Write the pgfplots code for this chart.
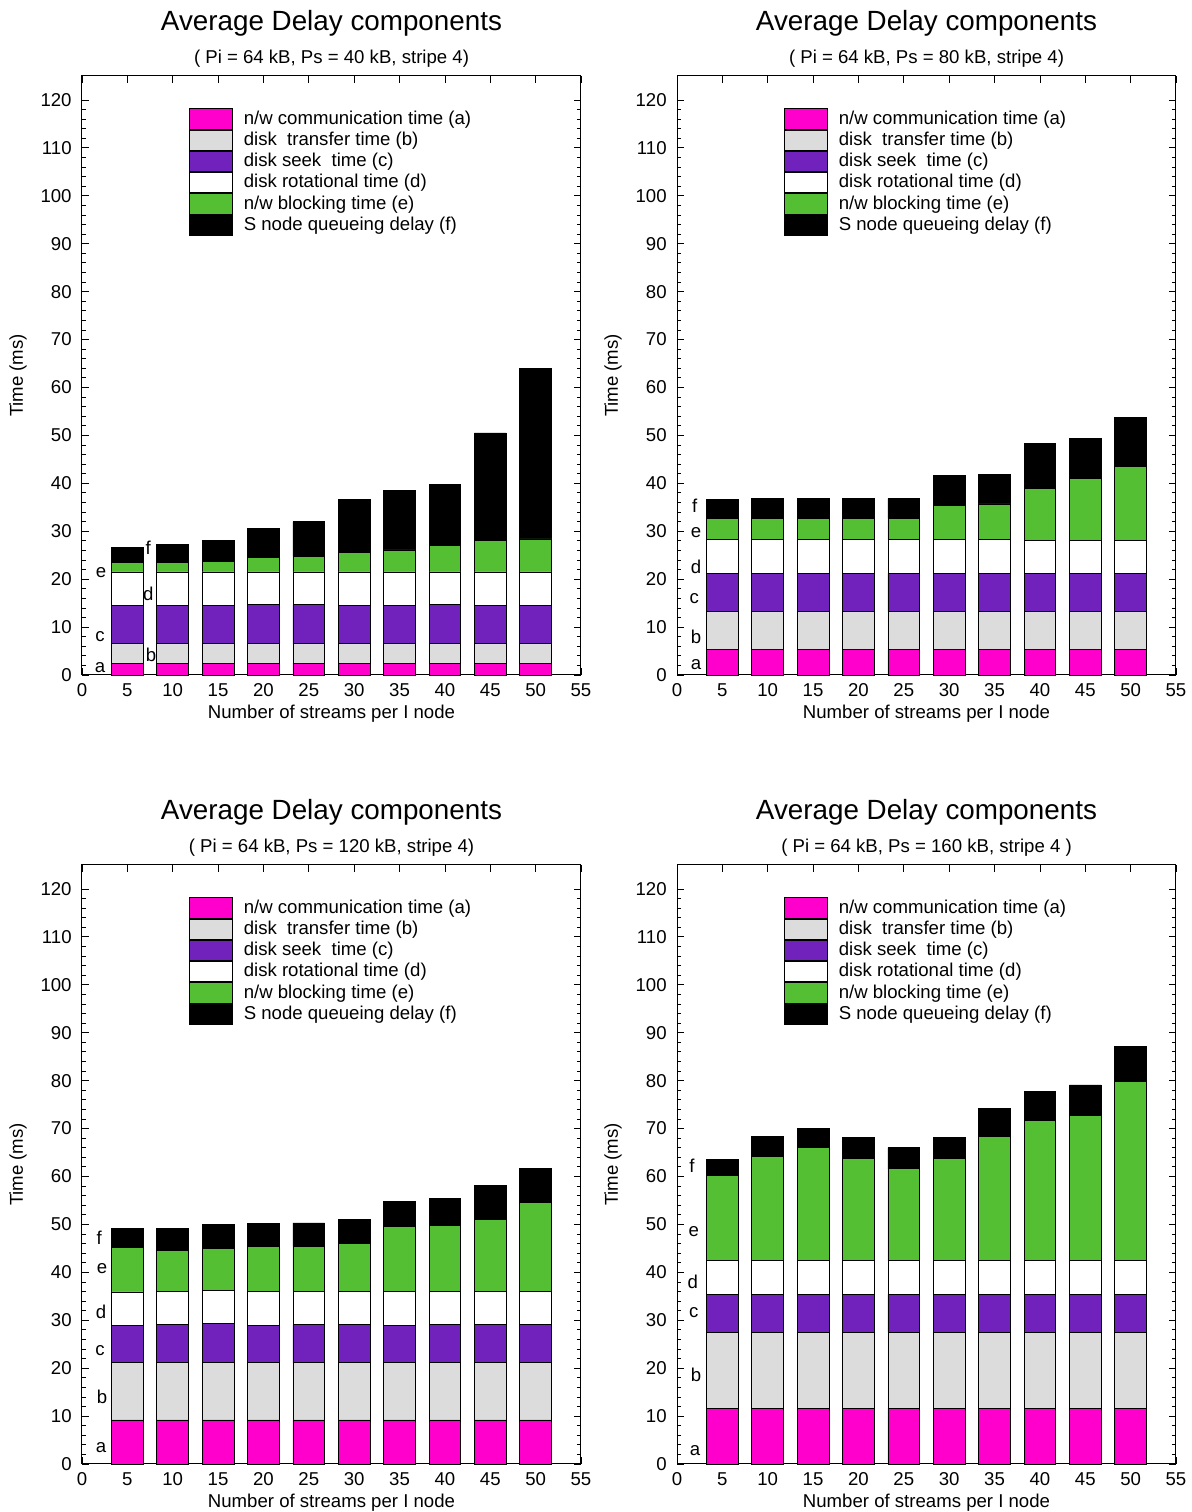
\documentclass[border=0pt]{standalone}
\usepackage{fontspec}
\setmainfont{Liberation Sans}
\usepackage{pgfplots}
\usepackage{pgfplotstable}
\pgfplotsset{compat=1.18}
\definecolor{ca}{HTML}{FF00CC}
\definecolor{cb}{HTML}{DCDCDC}
\definecolor{cc}{HTML}{7121BC}
\definecolor{cd}{HTML}{FFFFFF}
\definecolor{ce}{HTML}{55BF33}
\definecolor{cf}{HTML}{000000}

\pgfplotstableread{
x a b c d e f
5 2.5 4.0 8.0 7.0 2.0 3.2
10 2.5 4.0 8.1 6.9 2.0 3.7
15 2.5 4.0 8.0 7.0 2.2 4.3
20 2.5 4.0 8.2 6.8 3.0 6.0
25 2.5 4.0 8.2 6.8 3.25 7.25
30 2.5 4.0 8.0 7.0 4.1 11.0
35 2.5 4.0 8.0 7.0 4.6 12.5
40 2.5 4.0 8.2 6.8 5.5 12.8
45 2.5 4.0 8.0 7.0 6.5 22.5
50 2.5 4.0 8.0 7.0 6.9 35.6
}\tabA
\pgfplotstableread{
x a b c d e f
5 5.3 7.9 8.0 7.0 4.5 3.9
10 5.3 7.9 8.0 7.0 4.5 4.1
15 5.3 7.9 8.0 7.0 4.5 4.1
20 5.3 7.9 8.0 7.0 4.4 4.3
25 5.3 7.9 8.0 7.0 4.5 4.1
30 5.3 7.9 8.0 7.0 7.1 6.3
35 5.3 7.9 8.0 7.0 7.5 6.1
40 5.3 7.9 8.0 6.9 10.9 9.4
45 5.3 7.9 8.0 6.9 13.0 8.2
50 5.3 7.9 8.0 6.9 15.4 10.3
}\tabB
\pgfplotstableread{
x a b c d e f
5 9.2 11.9 7.75 7.05 9.3 4.0
10 9.2 11.9 7.95 7.05 8.4 4.7
15 9.2 11.9 8.2 6.9 8.8 4.9
20 9.2 11.9 7.8 7.1 9.4 4.8
25 9.2 11.9 8.0 7.0 9.3 4.9
30 9.2 11.9 7.95 6.95 10.0 5.0
35 9.2 11.9 7.9 7.0 13.5 5.2
40 9.2 11.9 7.95 6.95 13.75 5.7
45 9.2 11.9 8.1 6.9 14.9 7.1
50 9.2 11.9 8.0 6.9 18.5 7.1
}\tabC
\pgfplotstableread{
x a b c d e f
5 11.6 15.9 7.9 7.0 17.85 3.35
10 11.6 15.9 7.9 7.0 21.7 4.3
15 11.6 15.9 7.9 7.0 23.6 4.0
20 11.6 15.9 7.9 7.0 21.3 4.4
25 11.6 15.9 7.9 7.0 19.2 4.4
30 11.6 15.9 7.9 7.0 21.3 4.5
35 11.6 15.9 7.9 7.0 26.0 5.8
40 11.6 15.9 7.9 7.0 29.2 6.1
45 11.6 15.9 7.9 7.0 30.4 6.3
50 11.6 15.9 7.9 7.0 37.5 7.2
}\tabD

\newcommand{\sfont}{\fontsize{9.3}{11}\selectfont}
\newcommand{\tfont}{\fontsize{13.9}{16}\selectfont}

\pgfplotsset{delay/.style={
  width=249.5pt, height=299.5pt, scale only axis,
  xmin=0, xmax=55, ymin=0, ymax=125,
  ybar stacked, bar width=3.5,
  clip=false,
  xtick={0,5,...,55}, ytick={0,10,...,120}, minor y tick num=4,
  tick align=inside, tick pos=both,
  major tick length=3.3pt, minor tick length=2pt,
  axis line style={line width=0.5pt},
  every tick/.style={black, line width=0.4pt},
  tick label style={font=\sfont},
  /pgf/number format/assume math mode=true,
  xticklabel style={anchor=center, yshift=-7.5pt},
  yticklabel style={anchor=east, inner sep=0pt, xshift=-5pt},
  xlabel={Number of streams per I node},
  ylabel={Time (ms)},
  label style={font=\sfont},
  xlabel style={at={([yshift=-19.5pt]rel axis cs:0.5,0)}, anchor=center},
  ylabel style={at={([xshift=-32pt]rel axis cs:0,0.5)}, anchor=center},
  legend style={at={(rel axis cs:0.2144,0.9466)}, anchor=north west,
    draw=none, fill=none, inner sep=0pt, row sep=0pt, column sep=5.5pt,
    nodes={inner sep=0pt}, cells={anchor=west}, font=\sfont},
  legend image code/.code={\draw[#1,draw=black,line width=0.4pt] (0pt,-5.1pt) rectangle (21.3pt,5.1pt);},
}}

\newcommand{\bars}[1]{%
  \addplot[fill=ca, draw=black, line width=0.4pt] table[x=x,y=a]{#1};
  \addlegendentry{n/w communication time (a)}
  \addplot[fill=cb, draw=black, line width=0.4pt] table[x=x,y=b]{#1};
  \addlegendentry{disk\ \ transfer time (b)}
  \addplot[fill=cc, draw=black, line width=0.4pt] table[x=x,y=c]{#1};
  \addlegendentry{disk seek\ \ time (c)}
  \addplot[fill=cd, draw=black, line width=0.4pt] table[x=x,y=d]{#1};
  \addlegendentry{disk rotational time (d)}
  \addplot[fill=ce, draw=black, line width=0.4pt] table[x=x,y=e]{#1};
  \addlegendentry{n/w blocking time (e)}
  \addplot[fill=cf, draw=black, line width=0.4pt] table[x=x,y=f]{#1};
  \addlegendentry{S node queueing delay (f)}
}
\newcommand{\titles}[1]{%
  \node[font=\tfont, anchor=center] at ([yshift=26.5pt]rel axis cs:0.5,1) {Average Delay components};
  \node[font=\sfont, anchor=center] at ([yshift=8.7pt]rel axis cs:0.5,1) {#1};
}

\begin{document}
\begin{tikzpicture}
\useasboundingbox (0,0) rectangle (595.5pt,756pt);

\begin{axis}[delay, at={(41pt,718pt)}, anchor=north west]
\bars{\tabA}
\titles{( Pi = 64 kB, Ps = 40 kB, stripe 4)}
\node[font=\sfont] at (axis cs:1.98,1.46) {a};
\node[font=\sfont] at (axis cs:7.6,4.2) {b};
\node[font=\sfont] at (axis cs:1.98,8.1) {c};
\node[font=\sfont] at (axis cs:7.3,16.9) {d};
\node[font=\sfont] at (axis cs:2.1,21.3) {e};
\node[font=\sfont] at (axis cs:7.3,26.5) {f};
\end{axis}

\begin{axis}[delay, at={(338.5pt,718pt)}, anchor=north west]
\bars{\tabB}
\titles{( Pi = 64 kB, Ps = 80 kB, stripe 4)}
\node[font=\sfont] at (axis cs:2.1,2.15) {a};
\node[font=\sfont] at (axis cs:2.1,8.0) {b};
\node[font=\sfont] at (axis cs:1.9,16.0) {c};
\node[font=\sfont] at (axis cs:2.1,22.6) {d};
\node[font=\sfont] at (axis cs:2.1,29.8) {e};
\node[font=\sfont] at (axis cs:1.95,35.3) {f};
\end{axis}

\begin{axis}[delay, at={(41pt,323.5pt)}, anchor=north west]
\bars{\tabC}
\titles{( Pi = 64 kB, Ps = 120 kB, stripe 4)}
\node[font=\sfont] at (axis cs:2.1,3.4) {a};
\node[font=\sfont] at (axis cs:2.2,14.0) {b};
\node[font=\sfont] at (axis cs:2.0,23.7) {c};
\node[font=\sfont] at (axis cs:2.1,31.8) {d};
\node[font=\sfont] at (axis cs:2.2,40.75) {e};
\node[font=\sfont] at (axis cs:1.9,47.2) {f};
\end{axis}

\begin{axis}[delay, at={(338.5pt,323.5pt)}, anchor=north west]
\bars{\tabD}
\titles{( Pi = 64 kB, Ps = 160 kB, stripe 4 )}
\node[font=\sfont] at (axis cs:2.0,2.7) {a};
\node[font=\sfont] at (axis cs:2.1,18.5) {b};
\node[font=\sfont] at (axis cs:1.85,31.7) {c};
\node[font=\sfont] at (axis cs:1.75,38.0) {d};
\node[font=\sfont] at (axis cs:1.85,48.5) {e};
\node[font=\sfont] at (axis cs:1.65,62.2) {f};
\end{axis}
\end{tikzpicture}
\end{document}
